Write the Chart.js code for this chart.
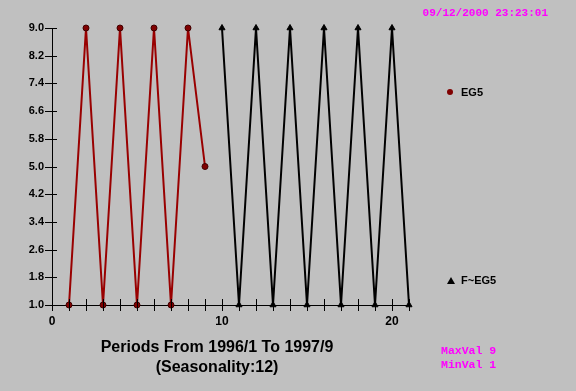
<!DOCTYPE html>
<html>
<head>
<meta charset="utf-8">
<script src="https://cdn.jsdelivr.net/npm/chart.js@4"></script>
<style>
  html, body { margin: 0; padding: 0; background: #c0c0c0; }
  #wrap { width: 576px; height: 391px; }
</style>
</head>
<body>
<div id="wrap"><canvas id="chart" width="576" height="391"></canvas></div>
<script>
// periods (x) and values
const eg5X = [1, 2, 3, 4, 5, 6, 7, 8, 9];
const eg5Y = [1, 9, 1, 9, 1, 9, 1, 9, 5];
const fcastX = [10, 11, 12, 13, 14, 15, 16, 17, 18, 19, 20, 21];
const fcastY = [9, 1, 9, 1, 9, 1, 9, 1, 9, 1, 9, 1];

const yTicks = [1.0, 1.8, 2.6, 3.4, 4.2, 5.0, 5.8, 6.6, 7.4, 8.2, 9.0];
const xTicks = [0, 1, 2, 3, 4, 5, 6, 7, 8, 9, 10, 11, 12, 13, 14, 15, 16, 17, 18, 19, 20, 21];
const xLabels = [0, 10, 20];

const stamp = '09/12/2000 23:23:01';
const xTitle = ['Periods From 1996/1 To 1997/9', '(Seasonality:12)'];
const maxMin = ['MaxVal 9', 'MinVal 1'];

function toPoints(xs, ys) {
    return xs.map((x, i) => ({ x: x, y: ys[i] }));
}

// crossing tick marks, legend and the loose texts
const extras = {
    id: 'extras',
    afterDraw(chart) {
        const c = chart.ctx;
        const xs = chart.scales.x, ys = chart.scales.y;
        const ax = xs.getPixelForValue(0);
        const ay = ys.getPixelForValue(1);
        c.save();
        c.strokeStyle = '#000';
        c.lineWidth = 1;
        c.beginPath();
        yTicks.forEach(v => {
            const p = Math.round(ys.getPixelForValue(v)) + 0.5;
            c.moveTo(ax - 7, p);
            c.lineTo(ax + 5, p);
        });
        xTicks.forEach(v => {
            const p = Math.round(xs.getPixelForValue(v)) + 0.5;
            c.moveTo(p, ay - 6);
            c.lineTo(p, ay + 6);
        });
        c.stroke();

        // legend
        c.fillStyle = '#800000';
        c.beginPath();
        c.arc(450, 92, 3, 0, Math.PI * 2);
        c.fill();
        c.fillStyle = '#000';
        c.beginPath();
        c.moveTo(451, 277);
        c.lineTo(455, 284);
        c.lineTo(447, 284);
        c.closePath();
        c.fill();
        c.font = 'bold 11px Arial, "Liberation Sans"';
        c.textBaseline = 'middle';
        c.textAlign = 'left';
        c.fillText('EG5', 461, 93);
        c.fillText('F~EG5', 461, 281);

        // axis title
        c.font = 'bold 16px Arial, "Liberation Sans"';
        c.textAlign = 'center';
        c.fillText(xTitle[0], 217, 348);
        c.fillText(xTitle[1], 217, 368);

        // magenta notes
        c.fillStyle = '#ff00ff';
        c.font = 'bold 11px "Liberation Mono", monospace';
        c.textAlign = 'right';
        c.fillText(stamp, 548, 13);
        c.font = 'bold 11.5px "Liberation Mono", monospace';
        c.textAlign = 'left';
        c.fillText(maxMin[0], 441, 351);
        c.fillText(maxMin[1], 441, 365);
        c.restore();
    }
};

new Chart(document.getElementById('chart'), {
    type: 'line',
    data: {
        datasets: [{
            label: 'EG5',
            data: toPoints(eg5X, eg5Y),
            borderColor: '#990000',
            borderWidth: 2,
            backgroundColor: '#800000',
            pointBackgroundColor: '#800000',
            pointBorderColor: '#400000',
            pointBorderWidth: 1,
            pointRadius: 3,
            pointStyle: 'circle',
            tension: 0,
            clip: false
        }, {
            label: 'F~EG5',
            data: toPoints(fcastX, fcastY),
            borderColor: '#000',
            borderWidth: 2,
            backgroundColor: '#000',
            pointBackgroundColor: '#000',
            pointBorderColor: '#000',
            pointBorderWidth: 1,
            pointRadius: 3.5,
            pointStyle: 'triangle',
            tension: 0,
            clip: false
        }]
    },
    options: {
        responsive: false,
        animation: false,
        devicePixelRatio: 1,
        layout: { padding: { top: 28, right: 167, left: 0, bottom: 0 } },
        plugins: { legend: { display: false }, tooltip: { enabled: false } },
        scales: {
            x: {
                type: 'linear',
                min: 0,
                max: 21,
                afterBuildTicks: (s) => { s.ticks = xTicks.map(v => ({ value: v })); },
                afterFit: (s) => { s.height = 86; },
                grid: { display: false, drawTicks: false },
                border: { display: true, color: '#000', width: 1 },
                ticks: {
                    autoSkip: false,
                    maxRotation: 0,
                    padding: 9,
                    color: '#000',
                    font: { family: 'Arial, "Liberation Sans"', size: 12, weight: 'bold' },
                    callback: (v) => xLabels.includes(v) ? String(v) : ''
                }
            },
            y: {
                min: 1,
                max: 9,
                afterBuildTicks: (s) => { s.ticks = yTicks.map(v => ({ value: v })); },
                afterFit: (s) => { s.width = 52; },
                grid: { display: false, drawTicks: false },
                border: { display: true, color: '#000', width: 1 },
                ticks: {
                    padding: 8,
                    color: '#000',
                    font: { family: 'Arial, "Liberation Sans"', size: 11, weight: 'bold' },
                    callback: (v) => Number(v).toFixed(1)
                }
            }
        }
    },
    plugins: [extras]
});
</script>
</body>
</html>
